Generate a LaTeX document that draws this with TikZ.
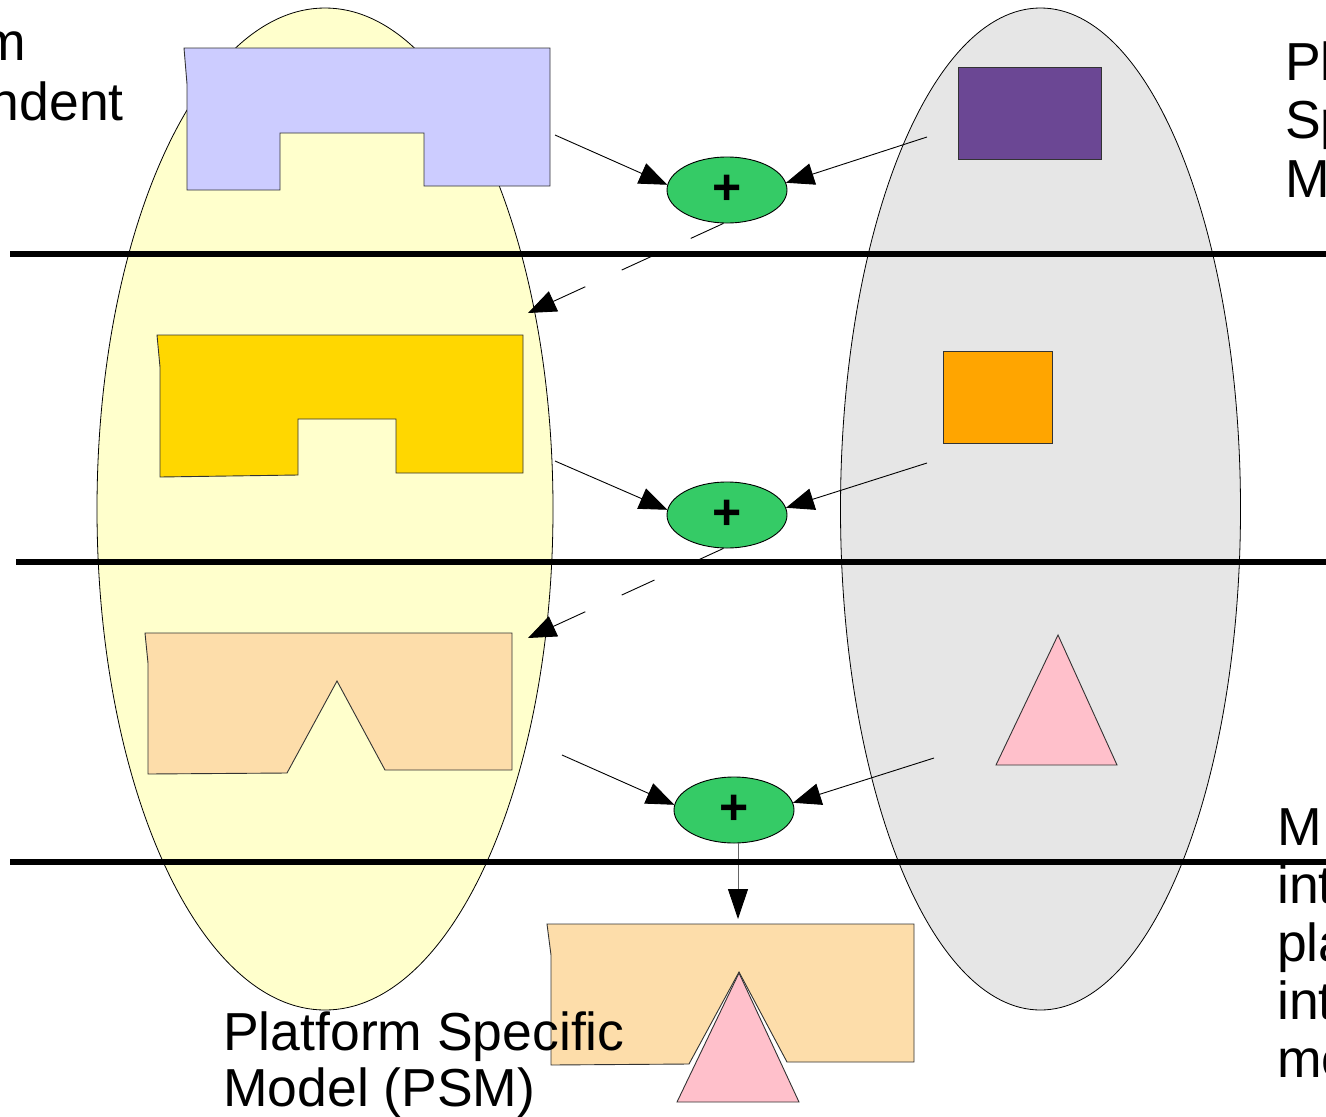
\documentclass[tikz,border=0pt]{standalone}
\usepackage{fontspec}
\setmainfont{Liberation Sans}
\usetikzlibrary{arrows.meta,shapes.geometric}

\definecolor{pimfill}{HTML}{FFFFCC}
\definecolor{platfill}{HTML}{E6E6E6}
\definecolor{lavender}{HTML}{CCCCFF}
\definecolor{goldfill}{HTML}{FFD700}
\definecolor{peach}{HTML}{FDDDAA}
\definecolor{plum}{HTML}{6B4794}
\definecolor{orangefill}{HTML}{FFA500}
\definecolor{pinkfill}{HTML}{FFC0CB}
\definecolor{opgreen}{HTML}{35CB66}

\tikzset{
  outline/.style={draw=black!80, line width=0.9pt, line join=miter},
  rule/.style={line width=6.5pt, line cap=butt},
  joinop/.style={ellipse, draw, line width=0.9pt, fill=opgreen,
    minimum width=120pt, minimum height=66pt, inner sep=0pt,
    font=\fontsize{50}{58}\selectfont\bfseries},
  feed/.style={line width=0.9pt, -{Triangle[length=28pt,width=22pt]}},
  derive/.style={feed, dash pattern=on 36pt off 40pt},
  lbl/.style={inner sep=0pt, font=\fontsize{53.5}{58}\selectfont}
}

\begin{document}
\begin{tikzpicture}[x=1pt,y=-1pt]
\clip (0,0) rectangle (1326,1117);
\fill[white] (0,0) rectangle (1326,1117);

% the two model spaces
\draw[fill=pimfill, line width=0.8pt] (325,509) ellipse [x radius=228pt, y radius=501pt];
\draw[fill=platfill, line width=0.8pt] (1040.5,509) ellipse [x radius=200pt, y radius=501pt];

% platform independent models, refined step by step
\draw[outline, fill=lavender] (184,48) -- (550,48) -- (550,186) -- (424,186) -- (424,133)
  -- (280,133) -- (280,190) -- (187,190) -- (187,84) -- cycle;
\draw[outline, fill=goldfill] (157,335) -- (523,335) -- (523,473) -- (396,473) -- (396,419)
  -- (298,419) -- (298,475) -- (160,477) -- (160,367) -- cycle;
\draw[outline, fill=peach] (145,633) -- (512,633) -- (512,770) -- (385,770) -- (337,681)
  -- (287,773) -- (148,774) -- (148,663) -- cycle;

% platform pieces
\draw[outline, fill=plum] (958,67) rectangle (1101,159);
\draw[outline, fill=orangefill] (943,351) rectangle (1052,443);
\draw[outline, fill=pinkfill] (996,765) -- (1058,635) -- (1117,765) -- cycle;

% resulting platform specific model
\draw[outline, fill=peach] (547,924) -- (914,924) -- (914,1062) -- (787,1062) -- (739,972)
  -- (689,1064) -- (551,1065) -- (551,955) -- cycle;
\draw[outline, fill=pinkfill] (677,1102) -- (739,973) -- (799,1102) -- cycle;

% merge operators
\node[joinop] (e1) at (727,190) {+};
\node[joinop] (e2) at (727,515) {+};
\node[joinop] (e3) at (734,810) {+};

% connector ends
\coordinate (a1) at (555,135);
\coordinate (b1) at (927,137);
\coordinate (d1) at (528,313);
\coordinate (a2) at (555,461);
\coordinate (b2) at (927,463);
\coordinate (d2) at (528,638);
\coordinate (a3) at (562,755);
\coordinate (b3) at (934,758);
\coordinate (d3) at (738,919);

\draw[feed] (a1) -- (e1.175);
\draw[feed] (b1) -- (e1.7);
\draw[derive] (e1.-96) -- (d1);
\draw[feed] (a2) -- (e2.175);
\draw[feed] (b2) -- (e2.7);
\draw[derive] (e2.-96) -- (d2);
\draw[feed] (a3) -- (e3.175);
\draw[feed] (b3) -- (e3.7);
\draw[line width=0.9pt, draw=black!60, -{Triangle[length=30pt,width=20pt,black]}] (e3.south -| d3) -- (d3);

% level separators
\draw[rule] (10,254) -- (1326,254);
\draw[rule] (16,562) -- (1326,562);
\draw[rule] (10,862) -- (1326,862);

% labels
\node[lbl, anchor=base east] (pimA) at (26,60) {m};
\node[lbl, anchor=base east] (pimB) at (124,120) {ndent};
\node[lbl, anchor=base west] (psmA) at (1285,80) {Pl};
\node[lbl, anchor=base west] (psmB) at (1285,138) {Sp};
\node[lbl, anchor=base west] (psmC) at (1285,197) {M};
\node[lbl, anchor=base west] (mapA) at (1277,845) {M};
\node[lbl, anchor=base west] (mapB) at (1277,903) {int};
\node[lbl, anchor=base west] (mapC) at (1277,961) {pla};
\node[lbl, anchor=base west] (mapD) at (1277,1019) {int};
\node[lbl, anchor=base west] (mapE) at (1277,1077) {mo};
\node[lbl, anchor=base west] (psmL1) at (223,1050) {Platform Specific};
\node[lbl, anchor=base west] (psmL2) at (223,1106) {Model (PSM)};
\end{tikzpicture}
\end{document}
